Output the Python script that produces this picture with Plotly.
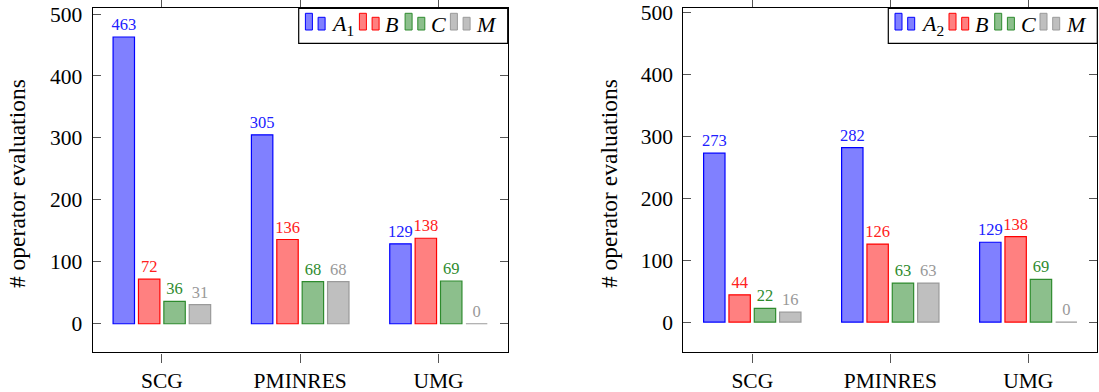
import plotly.graph_objects as go

# ---- data ----
categories = ["SCG", "PMINRES", "UMG"]
series_names = ["A", "B", "C", "M"]
left_A1 = [463, 305, 129]
left_B = [72, 136, 138]
left_C = [36, 68, 69]
left_M = [31, 68, 0]
right_A2 = [273, 282, 129]
right_B = [44, 126, 138]
right_C = [22, 63, 69]
right_M = [16, 63, 0]
y_ticks = [0, 100, 200, 300, 400, 500]
legend_left = ["<i>A</i><sub>1</sub>", "<i>B</i>", "<i>C</i>", "<i>M</i>"]
legend_right = ["<i>A</i><sub>2</sub>", "<i>B</i>", "<i>C</i>", "<i>M</i>"]
y_title = "# operator evaluations"

# ---- styles ----
fills = ["#8080ff", "#ff8080", "#8cbf8c", "#bfbfbf"]
strokes = ["#0000ff", "#ff0000", "#2e8b2e", "#9a9a9a"]
text_colors = ["#2020ff", "#ff2020", "#2e8b2e", "#999999"]
FONT = "Liberation Serif"

W, H = 1099, 392


def fx(px):
    return px / W


def fy(py):
    return 1 - py / H


top_px, bot_px = 8.3, 352.4
panels = [
    dict(x0=92.7, x1=507.7, yr=[-46.3, 509.3], xa="x", ya="y",
         vals=[left_A1, left_B, left_C, left_M], leg=legend_left, ylab_x=17),
    dict(x0=683.3, x1=1097.3, yr=[-49.1, 507.2], xa="x2", ya="y2",
         vals=[right_A2, right_B, right_C, right_M], leg=legend_right, ylab_x=609),
]

fig = go.Figure()
shapes = []
annotations = []

for p in panels:
    for i, vals in enumerate(p["vals"]):
        fig.add_trace(go.Bar(
            x=categories, y=vals, xaxis=p["xa"], yaxis=p["ya"],
            name=series_names[i],
            marker=dict(color=fills[i], line=dict(color=strokes[i], width=1.2)),
            text=[str(v) for v in vals], textposition="outside",
            textfont=dict(family=FONT, size=16.5, color=text_colors[i]),
            constraintext="none", cliponaxis=False, showlegend=False,
        ))
    # custom pgfplots-like legend
    bx0 = p["x1"] - 209
    shapes.append(dict(type="rect", xref="paper", yref="paper",
                       x0=fx(bx0), x1=fx(p["x1"]), y0=fy(43.3), y1=fy(top_px),
                       fillcolor="white", line=dict(color="black", width=1.2),
                       layer="above"))
    icon_offsets = [6.7, 60.7, 106.4, 151.7]
    for i, off in enumerate(icon_offsets):
        ix = bx0 + off
        shapes.append(dict(type="rect", xref="paper", yref="paper",
                           x0=fx(ix), x1=fx(ix + 7), y0=fy(30), y1=fy(13.3),
                           fillcolor=fills[i], line=dict(color=strokes[i], width=1),
                           layer="above"))
        shapes.append(dict(type="rect", xref="paper", yref="paper",
                           x0=fx(ix + 12.7), x1=fx(ix + 19.7), y0=fy(30), y1=fy(17.3),
                           fillcolor=fills[i], line=dict(color=strokes[i], width=1),
                           layer="above"))
        annotations.append(dict(
            text=p["leg"][i], xref="paper", yref="paper",
            x=fx(ix + 24), y=fy(24.5), xanchor="left", yanchor="middle",
            showarrow=False, font=dict(family=FONT, size=22, color="black")))
    annotations.append(dict(
        text=y_title, xref="paper", yref="paper", x=fx(p["ylab_x"]), y=fy(184),
        xanchor="center", yanchor="middle", textangle=-90, showarrow=False,
        font=dict(family=FONT, size=23.5, color="black")))

xcommon = dict(range=[-0.5, 2.5], showline=True, linecolor="black", linewidth=1.2,
               mirror="ticks", ticks="outside", ticklen=9, tickcolor="#555",
               tickwidth=1, showgrid=False, zeroline=False, automargin=False,
               tickfont=dict(family=FONT, size=21.5, color="black"), fixedrange=True)
ycommon = dict(showline=True, linecolor="black", linewidth=1.2, mirror="ticks",
               ticks="inside", ticklen=8, tickcolor="#555", tickwidth=1,
               showgrid=False, zeroline=False, automargin=False,
               tickvals=y_ticks, ticktext=[str(t) for t in y_ticks],
               ticklabelstandoff=5,
               tickfont=dict(family=FONT, size=21.5, color="black"), fixedrange=True)

fig.update_layout(
    width=W, height=H,
    margin=dict(l=0, r=0, t=0, b=0, pad=0),
    paper_bgcolor="white", plot_bgcolor="white",
    barmode="group", bargap=0.266, bargroupgap=0.156,
    xaxis=dict(domain=[fx(92.7), fx(507.7)], anchor="y", **xcommon),
    yaxis=dict(domain=[fy(bot_px), fy(top_px)], anchor="x", range=panels[0]["yr"], **ycommon),
    xaxis2=dict(domain=[fx(683.3), fx(1097.3)], anchor="y2", **xcommon),
    yaxis2=dict(domain=[fy(bot_px), fy(top_px)], anchor="x2", range=panels[1]["yr"], **ycommon),
    shapes=shapes, annotations=annotations, showlegend=False,
)

fig.write_html("out.html", config={"displayModeBar": False},
               post_script="document.body.style.margin='0px';"
                           "document.body.style.overflow='hidden';")
